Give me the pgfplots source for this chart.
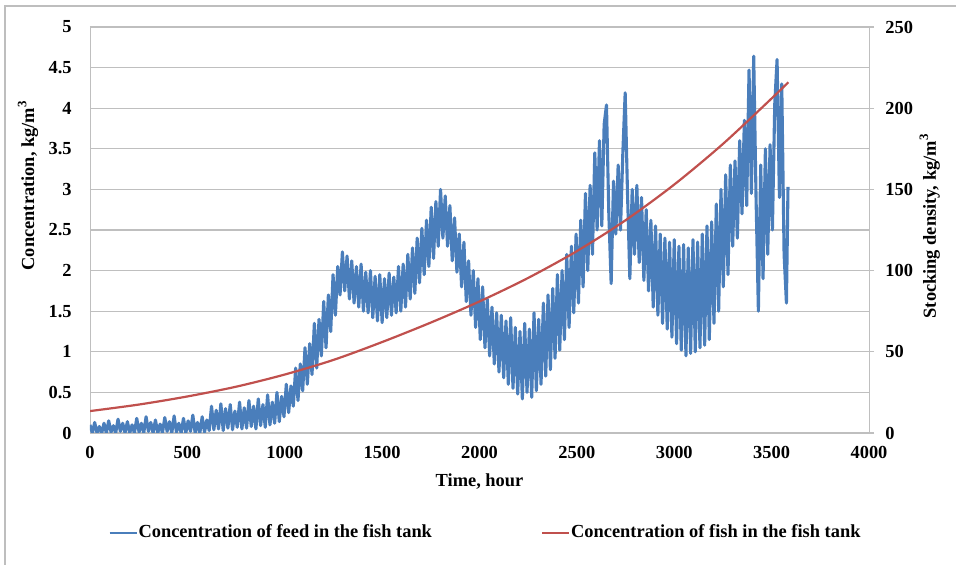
\documentclass[border=0pt]{standalone}
\usepackage{fontspec}
\setmainfont{Liberation Serif}
\usepackage{pgfplots}
\pgfplotsset{compat=1.18}
\usetikzlibrary{calc}
\definecolor{exblue}{HTML}{4A7EBB}
\definecolor{exred}{HTML}{C0504D}
\definecolor{gridc}{HTML}{BFBFBF}
\definecolor{framec}{HTML}{BEBEBE}

\pgfplotstableread{
t y
0 0.10
12 0
24 0.13
36 0
48 0.08
60 0
72 0.12
84 0
96 0.15
108 0.01
120 0.09
132 0
144 0.17
156 0.02
168 0.12
180 0
192 0.14
204 0
216 0.10
228 0
240 0.18
252 0.01
264 0.12
276 0
288 0.20
300 0.02
312 0.13
324 0
336 0.16
348 0
360 0.11
372 0
384 0.19
396 0.02
408 0.14
420 0
432 0.21
444 0.01
456 0.12
468 0
480 0.18
492 0
504 0.15
516 0.02
528 0.22
540 0
552 0.13
564 0
576 0.20
588 0.01
600 0.16
612 0.03
624 0.33
636 0.04
648 0.28
660 0.05
672 0.36
684 0.03
696 0.30
708 0.06
720 0.35
732 0.04
744 0.27
756 0.07
768 0.38
780 0.05
792 0.31
804 0.06
816 0.40
828 0.08
840 0.33
852 0.05
864 0.42
876 0.09
888 0.35
900 0.07
912 0.47
924 0.10
936 0.38
948 0.12
960 0.50
972 0.14
984 0.45
996 0.20
1008 0.60
1020 0.25
1032 0.58
1044 0.33
1056 0.80
1068 0.40
1080 0.85
1092 0.52
1104 1.05
1116 0.60
1128 1.10
1140 0.72
1152 1.35
1164 0.80
1176 1.40
1188 0.95
1200 1.62
1212 1.05
1224 1.70
1236 1.25
1248 1.95
1260 1.45
1272 2.05
1284 1.70
1296 2.23
1308 1.75
1320 2.18
1332 1.65
1344 2.12
1356 1.60
1368 2.05
1380 1.55
1392 2.08
1404 1.50
1416 1.98
1428 1.48
1440 2.00
1452 1.42
1464 1.93
1476 1.38
1488 1.95
1500 1.36
1512 1.90
1524 1.42
1536 1.97
1548 1.45
1560 1.92
1572 1.48
1584 2.05
1596 1.50
1608 2.08
1620 1.55
1632 2.20
1644 1.65
1656 2.28
1668 1.72
1680 2.40
1692 1.85
1704 2.52
1716 1.95
1728 2.62
1740 2.05
1752 2.78
1764 2.15
1776 2.85
1788 2.30
1800 3.00
1812 2.40
1824 2.92
1836 2.30
1848 2.80
1860 2.12
1872 2.65
1884 1.98
1896 2.45
1908 1.80
1920 2.35
1932 1.62
1944 2.12
1956 1.45
1968 2.00
1980 1.30
1992 1.90
2004 1.15
2016 1.80
2028 1.05
2040 1.65
2052 0.95
2064 1.55
2076 0.85
2088 1.48
2100 0.75
2112 1.45
2124 0.68
2136 1.38
2148 0.60
2160 1.42
2172 0.55
2184 1.30
2196 0.48
2208 1.25
2220 0.42
2232 1.35
2244 0.50
2256 1.28
2268 0.44
2280 1.48
2292 0.52
2304 1.40
2316 0.60
2328 1.60
2340 0.70
2352 1.70
2364 0.78
2376 1.78
2388 0.92
2400 1.95
2412 1.02
2424 2.00
2436 1.15
2448 2.20
2460 1.30
2472 2.30
2484 1.48
2496 2.45
2508 1.60
2520 2.62
2532 1.80
2544 2.95
2556 2.00
2568 3.05
2580 2.20
2592 3.45
2604 2.50
2616 3.60
2628 2.55
2640 3.80
2652 4.04
2664 2.70
2676 1.84
2688 3.10
2700 2.45
2712 3.30
2724 2.50
2736 3.45
2748 4.19
2760 2.95
2772 1.90
2784 3.00
2796 2.20
2808 3.05
2820 2.10
2832 2.90
2844 1.88
2856 2.75
2868 1.75
2880 2.62
2892 1.55
2904 2.55
2916 1.45
2928 2.45
2940 1.35
2952 2.40
2964 1.28
2976 2.35
2988 1.18
3000 2.38
3012 1.10
3024 2.30
3036 1.02
3048 2.32
3060 0.95
3072 2.28
3084 0.98
3096 2.38
3108 1.00
3120 2.35
3132 1.05
3144 2.45
3156 1.08
3168 2.55
3180 1.15
3192 2.60
3204 1.35
3216 2.82
3228 1.50
3240 3.00
3252 1.80
3264 3.18
3276 1.95
3288 3.30
3300 2.30
3312 3.35
3324 2.40
3336 3.60
3348 2.70
3360 3.85
3372 2.80
3384 4.47
3396 2.95
3408 4.64
3420 2.90
3432 1.50
3444 3.30
3456 1.90
3468 3.50
3480 2.20
3492 3.55
3504 2.50
3516 4.05
3528 4.60
3540 2.90
3552 4.30
3564 2.20
3576 1.60
3584 3.03
}\feedtable

\pgfplotstableread{
t d
0 13.5
250 17.5
500 22.5
750 28.5
1000 36
1250 45
1500 56
1750 68
2000 81
2250 95.5
2500 112
2750 131
3000 153
3250 178
3500 206
3586 216
}\fishtable

\begin{document}
\begin{tikzpicture}
\pgfplotsset{
  every tick label/.append style={font=\fontsize{9.2}{11}\selectfont\bfseries},
  /pgf/number format/assume math mode=true,
  /pgf/number format/set thousands separator={},
}
\begin{axis}[
  name=ax,
  scale only axis,
  width=389.5pt, height=203pt,
  xmin=0, xmax=4000, ymin=0, ymax=5,
  xtick={0,500,1000,1500,2000,2500,3000,3500,4000},
  ytick={0,0.5,1,1.5,2,2.5,3,3.5,4,4.5,5},
  major tick length=0pt,
  axis line style={draw=gridc},
  ymajorgrids,
  major grid style={draw=gridc, line width=0.6pt},
  yticklabel style={inner sep=0pt, anchor=east, xshift=-9pt},
  xticklabel style={inner sep=0pt, anchor=north, yshift=-6.5pt},
  xlabel={Time, hour},
  ylabel={Concentration, kg/m\textsuperscript{3}},
  xlabel style={font=\fontsize{9.2}{11}\selectfont\bfseries, at={(axis description cs:0.5,0)}, anchor=center, yshift=-24.5pt},
  ylabel style={font=\fontsize{9.2}{11}\selectfont\bfseries, at={(axis description cs:-0.0796,0.61)}, anchor=center, rotate=0},
  scaled ticks=false,
]
\addplot[exblue, line width=1.55pt, line join=round, no markers] table[x=t, y=y] {\feedtable};
\end{axis}
\begin{axis}[
  scale only axis,
  width=389.5pt, height=203pt,
  xmin=0, xmax=4000, ymin=0, ymax=250,
  axis x line=none,
  axis y line*=right,
  ytick={0,50,100,150,200,250},
  tick align=outside,
  major tick length=2.5pt,
  y axis line style={draw=gridc},
  ytick style={draw=gridc, line width=0.6pt},
  yticklabel style={inner sep=0pt, anchor=west, xshift=5.5pt},
  ylabel={Stocking density, kg/m\textsuperscript{3}},
  ylabel style={font=\fontsize{9.2}{11}\selectfont\bfseries, at={(axis description cs:1.078,0.51)}, anchor=center, rotate=0},
  legend columns=2,
  legend cell align=left,
  legend image code/.code={\draw[#1] (0pt,0pt) -- (13.5pt,0pt);},
  legend style={at={(axis description cs:0.507,-0.246)}, anchor=center, draw=none, fill=none,
    font=\fontsize{9.2}{11}\selectfont\bfseries,
    nodes={inner xsep=0.5pt, inner ysep=1pt},
    /tikz/every even column/.append style={column sep=54pt}},
]
\addlegendimage{exblue, line width=1.1pt}
\addlegendentry{Concentration of feed in the fish tank}
\addplot[exred, line width=1.1pt, no markers, smooth] table[x=t, y=d] {\fishtable};
\addlegendentry{Concentration of fish in the fish tank}
\end{axis}
\pgfresetboundingbox
\useasboundingbox ($(ax.south west)+(-45pt,-66pt)$) rectangle ($(ax.north east)+(43.5pt,13.5pt)$);
\draw[framec, line width=1pt] ($(ax.south west)+(-42.5pt,-80pt)$) -- ($(ax.south west)+(-42.5pt,213.5pt)$) -- ($(ax.south west)+(500pt,213.5pt)$);
\end{tikzpicture}
\end{document}
